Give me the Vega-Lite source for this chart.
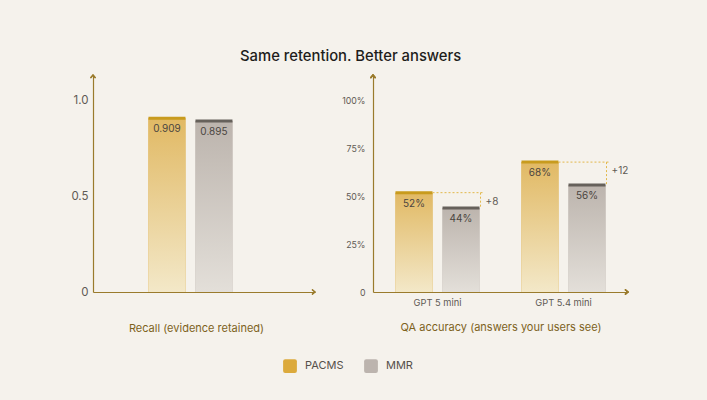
{
  "$schema": "https://vega.github.io/schema/vega-lite/v6.json",
  "background": "#f5f2ec",
  "padding": {"left": 70, "top": 49, "right": 86, "bottom": 35},
  "title": {
    "text": "Same retention. Better answers",
    "anchor": "middle",
    "font": "Inter",
    "fontSize": 14.8,
    "fontWeight": 500,
    "color": "#1e1d1b",
    "offset": 8.5
  },
  "config": {
    "font": "Inter",
    "view": {"stroke": null},
    "axis": {
      "domainColor": "#9a7b2c",
      "domainWidth": 1.2,
      "ticks": false,
      "grid": false,
      "labelColor": "#5f5a54",
      "labelFontSize": 9.3,
      "labelFont": "Inter",
      "titleFont": "Inter",
      "titleColor": "#7d621c",
      "titleFontSize": 11,
      "titleFontWeight": "normal"
    },
    "legend": {
      "labelFont": "Inter",
      "labelFontSize": 11,
      "labelColor": "#55504a"
    }
  },
  "hconcat": [
    {
      "width": 222,
      "height": 217,
      "data": {
        "values": [
          {"group": "Recall", "series": "PACMS", "value": 0.909, "label": "0.909"},
          {"group": "Recall", "series": "MMR", "value": 0.895, "label": "0.895"}
        ]
      },
      "encoding": {
        "x": {
          "field": "group",
          "type": "nominal",
          "scale": {"paddingInner": 0, "paddingOuter": 0.61, "align": 0.389},
          "axis": {"labels": false, "title": "Recall (evidence retained)", "titlePadding": 30, "titleX": 103}
        },
        "y": {
          "field": "value",
          "type": "quantitative",
          "scale": {"domain": [0, 1.136], "nice": false},
          "axis": {"title": null, "values": [0, 0.5, 1], "labelExpr": "datum.value == 0 ? '0' : format(datum.value, '.1f')", "labelPadding": 5, "labelFontSize": 11.5}
        }
      },
      "layer": [
        {
          "mark": {"type": "bar"},
          "encoding": {
            "xOffset": {"field": "series", "type": "nominal", "sort": ["PACMS", "MMR"], "scale": {"paddingInner": 0.2128, "paddingOuter": 0.17}},
            "color": {
              "field": "series",
              "type": "nominal",
              "sort": ["PACMS", "MMR"],
              "scale": {"domain": ["PACMS", "MMR"], "range": ["#dcaa3c", "#bcb4ae"]},
              "legend": {
                "title": null,
                "orient": "none",
                "direction": "horizontal",
                "legendX": 190,
                "legendY": 284,
                "symbolType": "M-1,-0.7Q-1,-1,-0.7,-1L0.7,-1Q1,-1,1,-0.7L1,0.7Q1,1,0.7,1L-0.7,1Q-1,1,-1,0.7Z",
                "symbolSize": 190,
                "symbolStrokeWidth": 0,
                "columnPadding": 20,
                "labelOffset": 8
              }
            }
          }
        },
        {
          "mark": {"type": "bar"},
          "encoding": {
            "xOffset": {"field": "series", "type": "nominal", "sort": ["PACMS", "MMR"]},
            "color": {
              "condition": {
                "test": "datum.series === 'PACMS'",
                "value": {"gradient": "linear", "x1": 0, "y1": 0, "x2": 0, "y2": 1, "stops": [{"offset": 0, "color": "#e1b964"}, {"offset": 1, "color": "#f3e8c8"}]}
              },
              "value": {"gradient": "linear", "x1": 0, "y1": 0, "x2": 0, "y2": 1, "stops": [{"offset": 0, "color": "#bcb4ad"}, {"offset": 1, "color": "#e3dfd9"}]}
            }
          }
        },
        {
          "mark": {"type": "bar", "yOffset": -1.5, "y2Offset": 1.5},
          "encoding": {
            "xOffset": {"field": "series", "type": "nominal", "sort": ["PACMS", "MMR"]},
            "y2": {"field": "value"},
            "color": {"condition": {"test": "datum.series === 'PACMS'", "value": "#c89b1e"}, "value": "#66615b"}
          }
        },
        {
          "mark": {"type": "text", "baseline": "top", "dy": 6, "fontSize": 10, "color": "#4a4540"},
          "encoding": {
            "xOffset": {"field": "series", "type": "nominal", "sort": ["PACMS", "MMR"]},
            "text": {"field": "label"}
          }
        },
        {
          "mark": {"type": "point", "shape": "M-1,1.2L0,0L1,1.2", "size": 25, "filled": false, "stroke": "#9a7b2c", "strokeWidth": 1.2, "opacity": 1},
          "encoding": {"x": {"value": 0}, "y": {"datum": 1.136}}
        },
        {
          "mark": {"type": "point", "shape": "M-1.2,-1L0,0L-1.2,1", "size": 25, "filled": false, "stroke": "#9a7b2c", "strokeWidth": 1.2, "opacity": 1},
          "encoding": {"x": {"value": "width"}, "y": {"datum": 0}}
        }
      ]
    },
    {
      "width": 255,
      "height": 217,
      "data": {
        "values": [
          {"model": "GPT 5 mini", "series": "PACMS", "value": 52, "label": "52%"},
          {"model": "GPT 5 mini", "series": "MMR", "value": 44, "label": "44%"},
          {"model": "GPT 5.4 mini", "series": "PACMS", "value": 68, "label": "68%"},
          {"model": "GPT 5.4 mini", "series": "MMR", "value": 56, "label": "56%"}
        ]
      },
      "encoding": {
        "x": {
          "field": "model",
          "type": "nominal",
          "sort": ["GPT 5 mini", "GPT 5.4 mini"],
          "scale": {"paddingInner": 0.206, "paddingOuter": 0.115},
          "axis": {"labelAngle": 0, "labelPadding": 6, "title": "QA accuracy (answers your users see)", "titlePadding": 14}
        },
        "y": {
          "field": "value",
          "type": "quantitative",
          "scale": {"domain": [0, 113.6], "nice": false},
          "axis": {"title": null, "values": [0, 25, 50, 75, 100], "labelExpr": "datum.value == 0 ? '0' : datum.value + '%'", "labelPadding": 8, "labelFontSize": 8.8}
        }
      },
      "layer": [
        {
          "mark": {"type": "bar"},
          "encoding": {
            "xOffset": {"field": "series", "type": "nominal", "sort": ["PACMS", "MMR"], "scale": {"paddingInner": 0.2128, "paddingOuter": 0.17}},
            "color": {
              "field": "series",
              "type": "nominal",
              "sort": ["PACMS", "MMR"],
              "scale": {"domain": ["PACMS", "MMR"], "range": ["#dcaa3c", "#bcb4ae"]}
            }
          }
        },
        {
          "mark": {"type": "bar"},
          "encoding": {
            "xOffset": {"field": "series", "type": "nominal", "sort": ["PACMS", "MMR"]},
            "color": {
              "condition": {
                "test": "datum.series === 'PACMS'",
                "value": {"gradient": "linear", "x1": 0, "y1": 0, "x2": 0, "y2": 1, "stops": [{"offset": 0, "color": "#e1b964"}, {"offset": 1, "color": "#f3e8c8"}]}
              },
              "value": {"gradient": "linear", "x1": 0, "y1": 0, "x2": 0, "y2": 1, "stops": [{"offset": 0, "color": "#bcb4ad"}, {"offset": 1, "color": "#e3dfd9"}]}
            }
          }
        },
        {
          "mark": {"type": "bar", "yOffset": -1.5, "y2Offset": 1.5},
          "encoding": {
            "xOffset": {"field": "series", "type": "nominal", "sort": ["PACMS", "MMR"]},
            "y2": {"field": "value"},
            "color": {"condition": {"test": "datum.series === 'PACMS'", "value": "#c89b1e"}, "value": "#66615b"}
          }
        },
        {
          "mark": {"type": "text", "baseline": "top", "dy": 6, "fontSize": 10, "color": "#4a4540"},
          "encoding": {
            "xOffset": {"field": "series", "type": "nominal", "sort": ["PACMS", "MMR"]},
            "text": {"field": "label"}
          }
        },
        {
          "data": {
            "values": [
              {"model": "GPT 5 mini", "top": 52, "bottom": 44, "gain": "+8"},
              {"model": "GPT 5.4 mini", "top": 68, "bottom": 56, "gain": "+12"}
            ]
          },
          "layer": [
            {
              "mark": {"type": "rule", "color": "#e2b84a", "strokeDash": [2, 2], "strokeWidth": 1},
              "encoding": {
                "x": {"field": "model", "type": "nominal", "bandPosition": 0.45},
                "x2": {"field": "model", "bandPosition": 0.96},
                "y": {"field": "top", "type": "quantitative"}
              }
            },
            {
              "mark": {"type": "rule", "color": "#e2b84a", "strokeDash": [2, 2], "strokeWidth": 1},
              "encoding": {
                "x": {"field": "model", "type": "nominal", "bandPosition": 0.93},
                "y": {"field": "top", "type": "quantitative"},
                "y2": {"field": "bottom"}
              }
            },
            {
              "mark": {"type": "text", "align": "left", "baseline": "top", "dx": 5, "dy": 4, "fontSize": 10, "color": "#5f5a54"},
              "encoding": {
                "x": {"field": "model", "type": "nominal", "bandPosition": 0.93},
                "y": {"field": "top", "type": "quantitative"},
                "text": {"field": "gain"}
              }
            }
          ]
        },
        {
          "mark": {"type": "point", "shape": "M-1,1.2L0,0L1,1.2", "size": 25, "filled": false, "stroke": "#9a7b2c", "strokeWidth": 1.2, "opacity": 1},
          "encoding": {"x": {"value": 0}, "y": {"datum": 113.6}}
        },
        {
          "mark": {"type": "point", "shape": "M-1.2,-1L0,0L-1.2,1", "size": 25, "filled": false, "stroke": "#9a7b2c", "strokeWidth": 1.2, "opacity": 1},
          "encoding": {"x": {"value": "width"}, "y": {"datum": 0}}
        }
      ]
    }
  ],
  "spacing": 23
}
